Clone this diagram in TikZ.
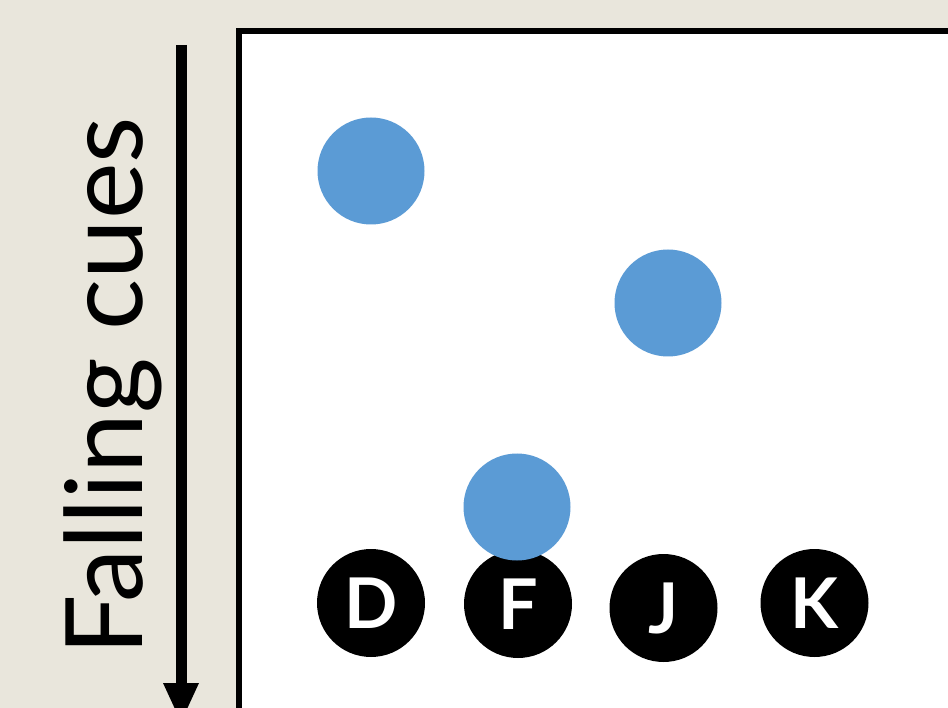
\documentclass[tikz,border=0pt]{standalone}
\usepackage{fontspec}
\setmainfont{Lato}
\definecolor{bgbeige}{HTML}{E9E6DC}
\definecolor{cueblue}{HTML}{5B9BD5}
\begin{document}
\begin{tikzpicture}[x=1pt,y=-1pt,
  keycircle/.style={circle,fill=black,minimum size=108pt,inner sep=0pt,text=white,font=\fontsize{70}{70}\selectfont\bfseries},
  cue/.style={circle,fill=cueblue,minimum size=107pt,inner sep=0pt}]
\useasboundingbox (0,0) rectangle (948,708);
\fill[bgbeige] (0,0) rectangle (948,708);
% panel
\fill[white] (239,31.5) rectangle (960,720);
\draw[line width=6pt] (239,720) -- (239,31.5) -- (960,31.5);
% arrow
\coordinate (atop) at (181,45);
\coordinate (abase) at (181,684);
\coordinate (atip) at (181,722);
\draw[line width=11pt] (atop) -- (abase);
\fill (163,683) -- (199,683) -- (atip) -- cycle;
% label
\node[rotate=90,anchor=base west,inner sep=0pt,font=\fontsize{107}{107}\selectfont] (lbl) at (142,656) {Falling cues};
% keys
\node[keycircle] (D) at (371,603) {D};
\node[keycircle] (F) at (518,604) {F};
\node[keycircle] (J) at (663.5,608) {J};
\node[keycircle] (K) at (814.5,603) {K};
% cues
\node[cue] (c1) at (371,171) {};
\node[cue] (c2) at (668,303) {};
\node[cue] (c3) at (517,507) {};
\end{tikzpicture}
\end{document}
